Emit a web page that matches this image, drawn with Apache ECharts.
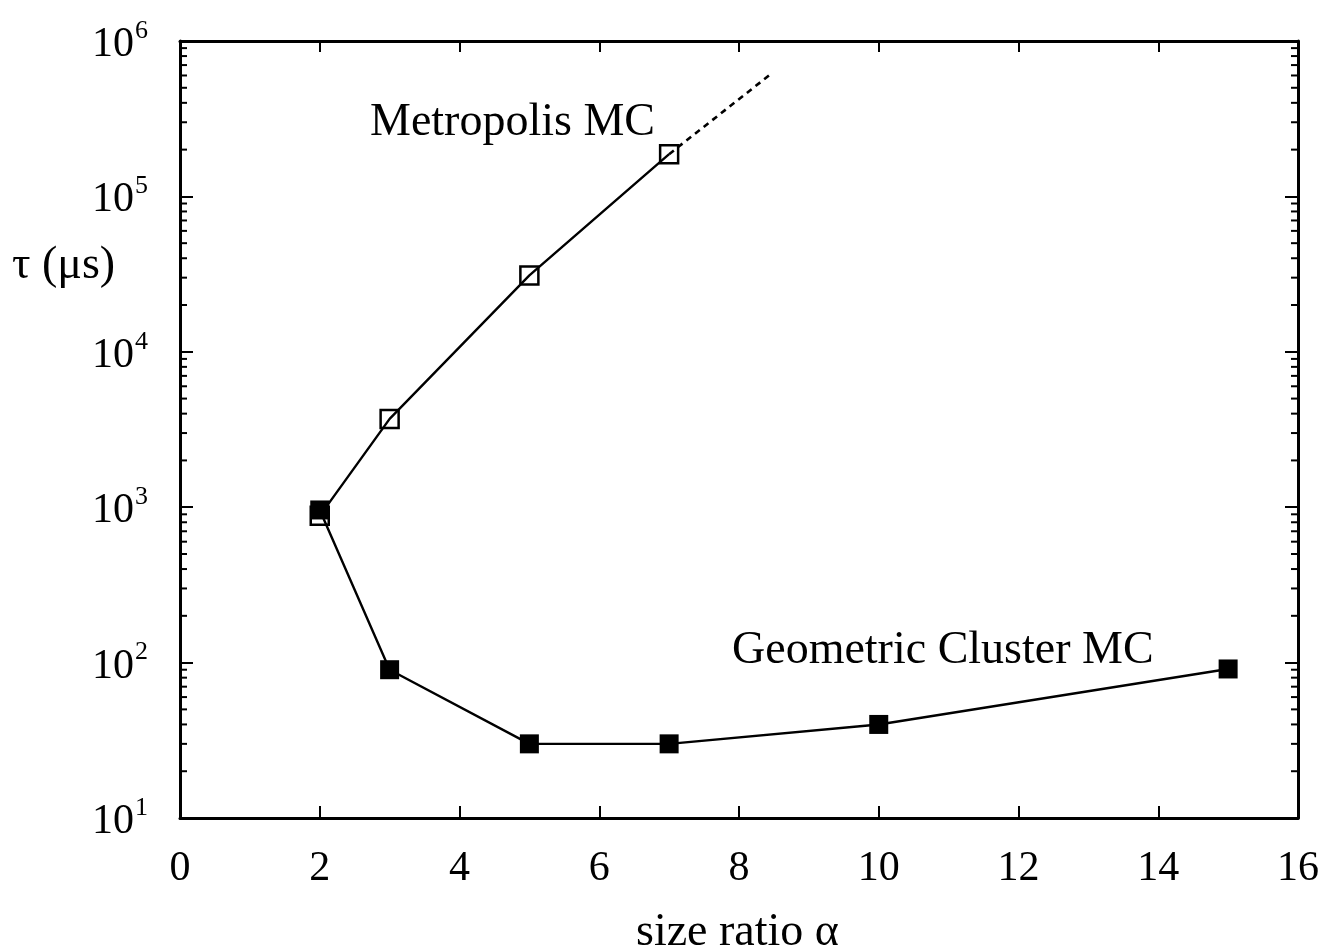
<!DOCTYPE html>
<html>
<head>
<meta charset="utf-8">
<script src="https://cdn.jsdelivr.net/npm/echarts@6/dist/echarts.min.js"></script>
<style>
  html, body { margin: 0; padding: 0; background: #fff; }
  #chart { width: 1325px; height: 952px; }
</style>
</head>
<body>
<div id="chart"></div>
<script>
// size ratio alpha
var metroX = [2, 3, 5, 7];
var metroY = [880, 3700, 31000, 187000];
// dashed extrapolation of the Metropolis curve
var extX = [7, 8.45];
var extY = [187000, 610000];
var gcmcX = [2, 3, 5, 7, 10, 15];
var gcmcY = [960, 90, 30, 30, 40, 91];

var xTicks = [0, 2, 4, 6, 8, 10, 12, 14, 16];
var yDecades = [10, 100, 1000, 10000, 100000, 1000000];

var serif = 'Liberation Serif';

// minor ticks of the log axis: 2..9 x 10^k
var minorTicks = [];
for (var k = 0; k < yDecades.length - 1; k++) {
  for (var m = 2; m <= 9; m++) minorTicks.push([0, m * yDecades[k]]);
}

function pairs(xs, ys) {
  return xs.map(function (x, i) { return [x, ys[i]]; });
}

var chart = echarts.init(document.getElementById('chart'));

var frameLine = { show: true, onZero: false, lineStyle: { color: '#000', width: 3 } };

var option = {
  backgroundColor: '#fff',
  animation: false,
  grid: { left: 180, right: 27, top: 41, bottom: 134 },
  xAxis: [
    {
      type: 'value', position: 'bottom', min: xTicks[0], max: xTicks[xTicks.length - 1], interval: 2,
      axisLine: frameLine,
      axisTick: { show: true, inside: true, length: 12, lineStyle: { color: '#000', width: 2 } },
      axisLabel: { color: '#000', fontFamily: serif, fontSize: 42, margin: 30 },
      splitLine: { show: false }
    },
    {
      type: 'value', position: 'top', min: xTicks[0], max: xTicks[xTicks.length - 1], interval: 2,
      axisLine: frameLine,
      axisTick: { show: true, inside: true, length: 11, lineStyle: { color: '#000', width: 2 } },
      axisLabel: { show: false },
      splitLine: { show: false }
    }
  ],
  yAxis: [
    {
      type: 'log', logBase: 10, position: 'left', min: yDecades[0], max: yDecades[yDecades.length - 1],
      axisLine: frameLine,
      axisTick: { show: true, inside: true, length: 13, lineStyle: { color: '#000', width: 2 } },
      axisLabel: {
        color: '#000', margin: 32,
        formatter: function (v) {
          return '{b|10}{s|' + Math.round(Math.log10(v)) + '}';
        },
        rich: {
          b: { fontFamily: serif, fontSize: 42, color: '#000', lineHeight: 46, padding: [8, 0, 0, 0] },
          s: { fontFamily: serif, fontSize: 26, color: '#000', verticalAlign: 'top', padding: [0, 0, 20, 1] }
        }
      },
      splitLine: { show: false }
    },
    {
      type: 'log', logBase: 10, position: 'right', min: yDecades[0], max: yDecades[yDecades.length - 1],
      axisLine: frameLine,
      axisTick: { show: true, inside: true, length: 13, lineStyle: { color: '#000', width: 2 } },
      axisLabel: { show: false },
      splitLine: { show: false }
    }
  ],
  series: [
    {
      name: 'minor ticks',
      type: 'custom',
      xAxisIndex: 0,
      yAxisIndex: 0,
      silent: true,
      data: minorTicks,
      renderItem: function (params, api) {
        var cs = params.coordSys;
        var y = api.coord([0, api.value(1)])[1];
        var st = { stroke: '#000', lineWidth: 2 };
        return {
          type: 'group',
          children: [
            { type: 'line', shape: { x1: cs.x, y1: y, x2: cs.x + 7, y2: y }, style: st },
            { type: 'line', shape: { x1: cs.x + cs.width - 7, y1: y, x2: cs.x + cs.width, y2: y }, style: st }
          ]
        };
      }
    },
    {
      name: 'Metropolis MC',
      type: 'line',
      data: pairs(metroX, metroY),
      symbol: 'rect',
      symbolSize: 18,
      lineStyle: { color: '#000', width: 2.4 },
      itemStyle: { color: 'rgba(0,0,0,0)', borderColor: '#000', borderWidth: 2.5 },
      z: 3
    },
    {
      name: 'Metropolis MC (extrapolated)',
      type: 'line',
      data: pairs(extX, extY),
      symbol: 'none',
      lineStyle: { color: '#000', width: 2.6, type: [6, 5] },
      z: 2
    },
    {
      name: 'Geometric Cluster MC',
      type: 'line',
      data: pairs(gcmcX, gcmcY),
      symbol: 'rect',
      symbolSize: 19,
      lineStyle: { color: '#000', width: 2.4 },
      itemStyle: { color: '#000', borderColor: '#000', borderWidth: 0 },
      z: 4
    }
  ],
  graphic: [
    { type: 'text', left: 370, top: 100, style: { text: 'Metropolis MC', fontFamily: serif, fontSize: 46, fill: '#000' } },
    { type: 'text', left: 732, top: 628, style: { text: 'Geometric Cluster MC', fontFamily: serif, fontSize: 46, fill: '#000' } },
    { type: 'text', left: 12, top: 243, style: { text: 'τ (μs)', fontFamily: serif, fontSize: 46, fill: '#000' } },
    { type: 'text', left: 636, top: 910, style: { text: 'size ratio α', fontFamily: serif, fontSize: 46, fill: '#000' } }
  ]
};

chart.setOption(option);
</script>
</body>
</html>
